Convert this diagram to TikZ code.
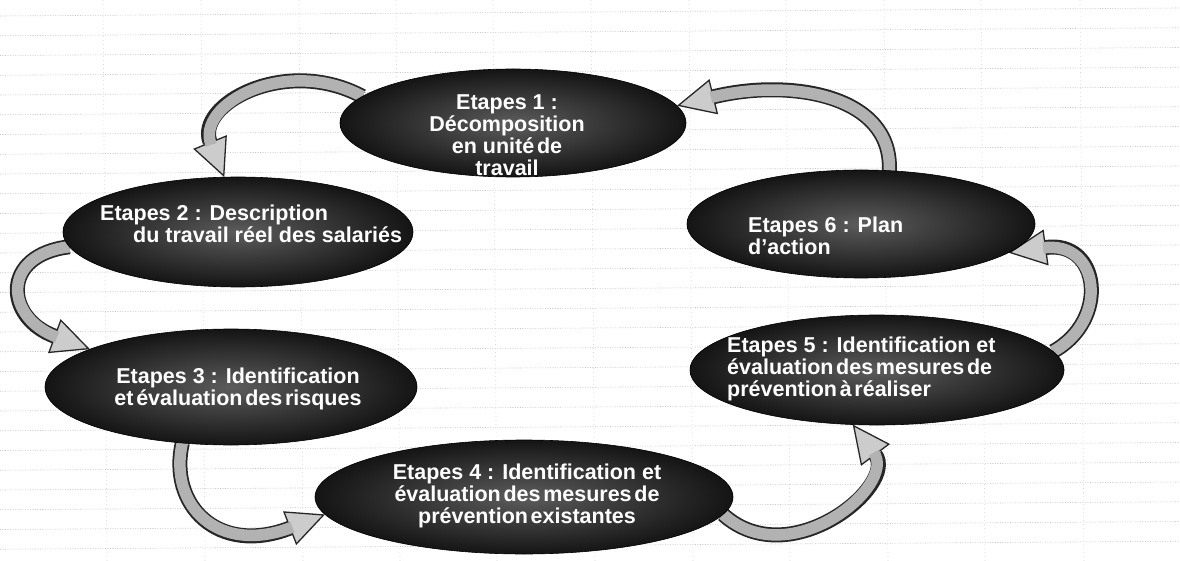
\documentclass[tikz,border=0pt]{standalone}
\usepackage{fontspec}
\setmainfont{Liberation Sans}
\newfontfamily\tightfont{Liberation Sans}[WordSpace=0.45]
\usetikzlibrary{shapes.geometric,arrows.meta}
\pgfdeclarelayer{gridl}
\pgfdeclarelayer{arrl}
\pgfsetlayers{gridl,arrl,main}
\newcommand{\blockarr}[4]{%
  \draw[arrout] #1 .. controls #2 and #3 .. #4;
  \draw[arrin] #1 .. controls #2 and #3 .. #4;}
\begin{document}
\begin{tikzpicture}[x=1pt,y=-1pt,
  ell/.style={ellipse, draw=black, line width=0.6pt, inner sep=0pt, outer sep=0pt,
              inner color=black!64, outer color=black!92},
  txt/.style={text=white, font=\fontsize{21.5pt}{22pt}\selectfont\bfseries, inner sep=0pt},
  arrout/.style={line width=15pt, draw=black!85,
     -{Triangle[length=38pt,width=36pt,fill=gray!40,line width=1.3pt]}},
  arrin/.style={line width=11.5pt, draw=gray!60, shorten >=35pt},
  gridh/.style={gray!45, line width=0.6pt, dash pattern=on 1pt off 1.5pt},
  gridv/.style={gray!30, line width=0.6pt, dash pattern=on 1pt off 3pt}]
\useasboundingbox (0,0) rectangle (1180,561);
\begin{pgfonlayer}{gridl}
  \fill[white] (0,0) rectangle (1180,561);
  \foreach \k in {0,...,27} {\draw[gridh] (0,16+19.75*\k) -- (1180,8+19.75*\k);}
  \foreach \xx in {107,205,303,400,497,595,693,790,888,985,1084} {\draw[gridv] (\xx,561) -- (\xx-4,0);}
\end{pgfonlayer}

% ellipses
\node[ell, minimum width=346pt, minimum height=108pt] (e1) at (513,123) {};
\node[ell, minimum width=350pt, minimum height=110pt] (e2) at (238,232) {};
\node[ell, minimum width=372pt, minimum height=116pt] (e3) at (231,387) {};
\node[ell, minimum width=418pt, minimum height=114pt] (e4) at (524,497) {};
\node[ell, minimum width=374pt, minimum height=110pt] (e5) at (877,370) {};
\node[ell, minimum width=348pt, minimum height=108pt] (e6) at (861,224) {};

% texts
\node[txt, align=center] (t1) at (507,135) {Etapes 1 :\\Décomposition\\en {\tightfont unité de}\\travail};
\node[txt, align=left, anchor=west] (t2) at (100,223.5) {Etapes 2 : Description\\\hspace*{33pt}du travail réel des salariés};
\node[txt, align=center] (t3) at (238,389) {Etapes 3 : Identification\\{\tightfont et évaluation des risques}};
\node[txt, align=center] (t4) at (527,496) {Etapes 4 : Identification et\\{\tightfont évaluation des mesures de}\\{\tightfont prévention existantes}};
\node[txt, align=left, anchor=west] (t5) at (727,369) {Etapes 5 : Identification et\\{\tightfont évaluation des mesures de}\\{\tightfont prévention à réaliser}};
\node[txt, align=left, anchor=west] (t6) at (748,235.5) {Etapes 6 : Plan\\d'action};

% curved block arrows
\begin{pgfonlayer}{arrl}
  \blockarr{(e6.62)}{(893,95)}{(790,78)}{(e1.6)}
  \blockarr{(e1.170)}{(285,55)}{(195,105)}{(e2.104)}
  \blockarr{(e2.185)}{(0,255)}{(5,318)}{(e3.165)}
  \blockarr{(e3.229)}{(168,505)}{(218,556)}{(e4.185)}
  \blockarr{(e4.-5)}{(790,575)}{(898,485)}{(e5.246)}
  \blockarr{(e5.6)}{(1110,320)}{(1100,240)}{(e6.-11)}
\end{pgfonlayer}
\end{tikzpicture}
\end{document}
